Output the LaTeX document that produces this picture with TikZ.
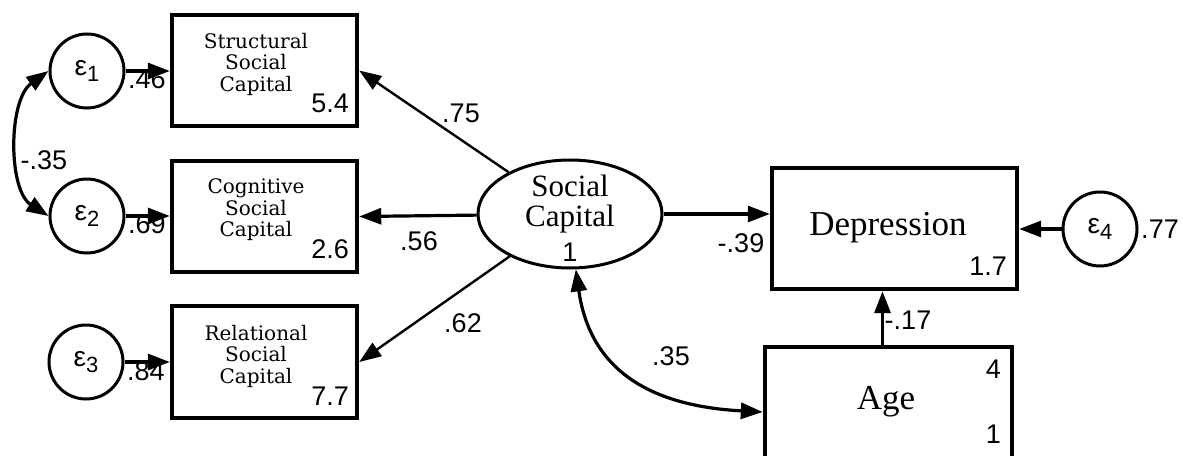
\documentclass[tikz,border=0pt]{standalone}
\usepackage{fontspec}
\setmainfont{Liberation Serif}
\newfontfamily\numf{Liberation Sans}
\newfontfamily\slabf{DejaVu Serif}
\usetikzlibrary{arrows.meta,shapes.geometric}
\begin{document}
\begin{tikzpicture}[x=1pt,y=-1pt,
  box/.style={draw,line width=4.4pt,rectangle,inner sep=0pt},
  err/.style={draw,line width=3pt,circle,minimum size=74pt,inner sep=0pt,font=\numf\fontsize{28}{28}\selectfont},
  arr/.style={line width=3.2pt,-{Triangle[length=22pt,width=16pt]}},
  arrthin/.style={line width=2.4pt,-{Triangle[length=22pt,width=16pt]}},
  cov/.style={line width=3.2pt,{Triangle[length=22pt,width=16pt]}-{Triangle[length=22pt,width=16pt]}},
  num/.style={font=\numf\fontsize{27}{27}\selectfont,inner sep=0pt},
  small/.style={font=\slabf\fontsize{20}{21.5}\selectfont,align=center,inner sep=0pt},
  big/.style={font=\fontsize{35}{35}\selectfont,inner sep=0pt}]
\useasboundingbox (0,0) rectangle (1183,455);
% boxes
\node[box,minimum width=185pt,minimum height=111pt] (b1) at (264.5,70.5) {};
\node[box,minimum width=185pt,minimum height=111pt] (b2) at (264.5,216.5) {};
\node[box,minimum width=185pt,minimum height=112pt] (b3) at (264.5,362) {};
\node[small] (t1) at (256,64) {Structural\\Social\\Capital};
\node[small] (t2) at (256,210) {Cognitive\\Social\\Capital};
\node[small] (t3) at (256,356) {Relational\\Social\\Capital};
\node[num,anchor=base east] (v1) at (349,112) {5.4};
\node[num,anchor=base east] (v2) at (349,258) {2.6};
\node[num,anchor=base east] (v3) at (349,405) {7.7};
% errors
\node[err] (e1) at (87,71) {ε\raisebox{-0.35ex}{\fontsize{22}{22}\selectfont 1}};
\node[err] (e2) at (87,216) {ε\raisebox{-0.35ex}{\fontsize{22}{22}\selectfont 2}};
\node[err] (e3) at (86,362) {ε\raisebox{-0.35ex}{\fontsize{22}{22}\selectfont 3}};
\node[err] (e4) at (1100,229) {ε\raisebox{-0.35ex}{\fontsize{22}{22}\selectfont 4}};
% partially hidden R2 labels
\node[num,anchor=base west] (r1) at (128,88) {.46};
\node[num,anchor=base west] (r2) at (128,233) {.69};
\node[num,anchor=base west] (r3) at (127,380) {.84};
% latent
\node[draw,ellipse,line width=3pt,minimum width=184pt,minimum height=108pt,inner sep=0pt] (sc) at (570,214) {};
\node[font=\fontsize{31}{30}\selectfont,align=center,inner sep=0pt] (sct) at (570,204) {Social\\Capital};
\node[num] (scv) at (570,252) {1};
% depression & age
\node[box,minimum width=245pt,minimum height=121pt] (dep) at (894.5,228.5) {};
\node[big] (dept) at (888,228) {Depression};
\node[num,anchor=base east] (depv) at (1007,275) {1.7};
\node[box,minimum width=247pt,minimum height=124pt] (age) at (888.5,409) {};
\node[big] (aget) at (886,402) {Age};
\node[num,anchor=base east] (agev1) at (1001,378) {4};
\node[num,anchor=base east] (agev2) at (1001,443) {1};
% error arrows
\draw[arr] (e1) -- (b1.west |- e1);
\draw[arr] (e2) -- (b2.west |- e2);
\draw[arr] (e3) -- (b3.west |- e3);
\draw[arr] (e4) -- (dep.east |- e4);
% loadings
\draw[arrthin] (sc) -- (b1.east);
\draw[arr] (sc) -- (b2.east);
\draw[arrthin] (sc) -- (b3.east);
\draw[arr] (sc) -- (dep.west |- sc);
\draw[arr] ([xshift=-6pt]age.north) -- ([xshift=-12pt]dep.south);
% covariances
\draw[cov] (e1.west) .. controls (8,100) and (8,190) .. (e2.west);
\draw[cov] (sc.-84) .. controls (590,370) and (650,406) .. ([yshift=-3pt]age.west);
% labels
\node[num] (l75) at (461,113) {.75};
\node[num] (l56) at (419,241) {.56};
\node[num] (l62) at (463,323) {.62};
\node[num] (l35a) at (44,160) {-.35};
\node[num] (l39) at (741,243) {-.39};
\node[num] (l35b) at (671,356) {.35};
\node[num] (l17) at (908,320) {-.17};
\node[num] (l77) at (1160,229) {.77};
\end{tikzpicture}
\end{document}
